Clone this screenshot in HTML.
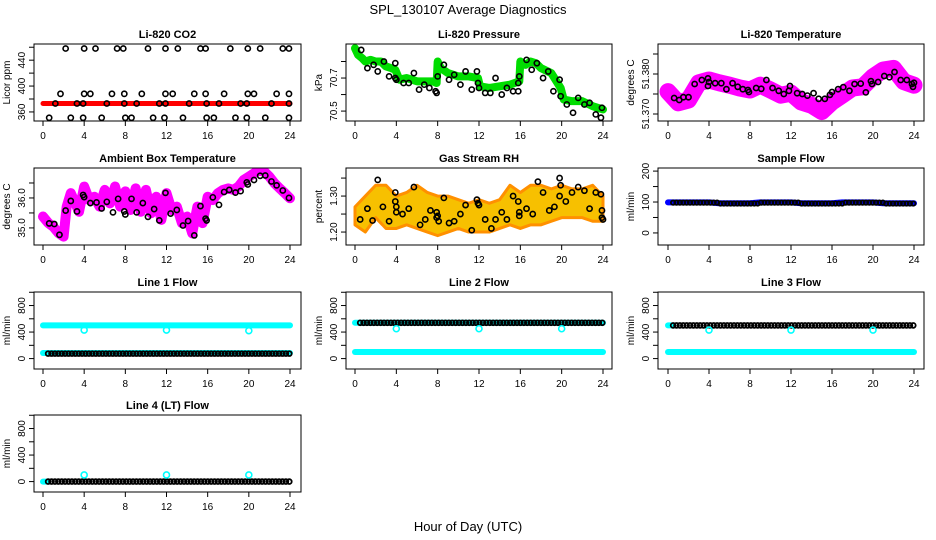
<!DOCTYPE html>
<html><head><meta charset="utf-8"><style>
html,body{margin:0;padding:0;background:#fff;}
svg{display:block;font-family:"Liberation Sans",sans-serif;}
</style></head><body>
<svg id="chart" width="936" height="540" viewBox="0 0 936 540">
<text x="468" y="14" text-anchor="middle" font-size="13">SPL_130107  Average Diagnostics</text>
<text x="468" y="531" text-anchor="middle" font-size="13">Hour of Day (UTC)</text>
</svg>
<script>
// ---- data ----
const hours = [0,1,2,3,4,5,6,7,8,9,10,11,12,13,14,15,16,17,18,19,20,21,22,23,24];
const xTicks = [0,4,8,12,16,20,24];

const co2BandH = [0,24];
const co2BandV = [373,373];
const co2PtsH = [2.2,4.0,5.1,7.2,7.8,10.2,11.9,13.1,15.3,15.8,18.2,19.9,21.1,23.3,23.9,
 1.7,4.0,4.6,6.7,7.9,9.6,11.9,12.6,14.7,15.8,17.6,19.9,20.5,22.7,23.9,
 1.2,3.3,3.9,6.2,7.9,9.1,11.3,11.9,14.2,15.9,17.1,19.2,19.8,22.2,23.9,
 0.6,2.7,3.9,5.7,8.0,8.6,10.7,11.8,13.6,15.9,16.6,18.7,19.8,21.6,23.9];
const co2PtsV = [458,458,458,458,458,458,458,458,458,458,458,458,458,458,458,
 388,388,388,388,388,388,388,388,388,388,388,388,388,388,388,
 373,373,373,373,373,373,373,373,373,373,373,373,373,373,373,
 351,351,351,351,351,351,351,351,351,351,351,351,351,351,351];

const presBandH = [0,0.3,0.7,1,1.5,2,2.5,3,3.5,3.9,4.3,5,6,7,7.5,7.9,8,8.3,9,10,11,11.9,12.1,13,14,15,15.9,16,16.5,17,17.5,18,19,19.9,20.2,21,22,23,24];
const presBandV = [70.88,70.84,70.82,70.80,70.81,70.80,70.80,70.77,70.76,70.75,70.69,70.70,70.68,70.68,70.68,70.67,70.80,70.76,70.73,70.71,70.71,70.70,70.65,70.64,70.65,70.66,70.68,70.80,70.78,70.80,70.79,70.76,70.73,70.64,70.57,70.56,70.56,70.53,70.51];
const presPtsH = [0.6,1.2,1.8,2.2,2.8,3.3,3.9,3.9,4.0,4.7,5.2,5.7,6.2,6.7,7.2,7.8,7.9,8.0,8.6,9.1,9.6,10.2,10.7,11.3,11.8,11.9,12.0,12.6,13.1,13.6,14.2,14.7,15.3,15.8,15.8,15.9,16.6,17.1,17.6,18.2,18.7,19.2,19.8,19.9,20.5,21.1,21.6,22.2,22.7,23.3,23.8,23.9];
const presPtsV = [70.87,70.76,70.78,70.74,70.80,70.71,70.79,70.70,70.69,70.67,70.67,70.73,70.63,70.66,70.64,70.62,70.61,70.71,70.78,70.69,70.72,70.66,70.74,70.63,70.74,70.67,70.64,70.61,70.61,70.70,70.60,70.64,70.62,70.62,70.67,70.71,70.81,70.75,70.79,70.70,70.74,70.62,70.69,70.59,70.54,70.49,70.58,70.54,70.55,70.48,70.46,70.52];

const tempBandV = [51.3756,51.3728,51.3735,51.3778,51.3785,51.3778,51.3772,51.3765,51.3760,51.3772,51.3760,51.3747,51.3752,51.3730,51.3722,51.3706,51.3730,51.3747,51.3765,51.3768,51.3793,51.3810,51.3814,51.3781,51.3772];
const tempPtsH = [0.6,1.1,1.5,2.0,2.6,3.3,3.9,4.0,3.9,4.6,5.2,5.7,6.3,6.8,7.3,7.8,7.9,8.6,9.1,9.6,10.2,10.8,11.3,11.8,11.9,12.6,13.1,13.6,14.2,14.7,15.3,15.8,16.0,16.6,17.1,17.7,18.2,18.8,19.3,19.8,19.9,20.5,21.1,21.6,22.1,22.7,23.3,23.8,23.9,24];
const tempPtsV = [51.3740,51.3735,51.3742,51.3742,51.3775,51.3785,51.3789,51.3780,51.3770,51.3777,51.3777,51.3762,51.3777,51.3768,51.3762,51.3760,51.3755,51.3765,51.3763,51.3785,51.3765,51.3758,51.3750,51.3758,51.3770,51.3752,51.3750,51.3746,51.3752,51.3738,51.3738,51.3748,51.3755,51.3762,51.3767,51.3758,51.3775,51.3776,51.3754,51.3782,51.3775,51.3780,51.3795,51.3792,51.3805,51.3785,51.3785,51.3775,51.3768,51.3778];

const ambBandH = [0,0.5,1,1.5,2,2.3,2.7,3,3.5,4,4.5,5,5.5,6,6.5,7,7.5,8,8.5,9,9.5,10,10.5,11,11.5,12,12.5,13,13.5,14,14.5,15,15.5,16,16.5,17,17.5,18,18.5,19,19.5,20,20.5,21,21.5,22,22.5,23,23.5,24];
const ambBandV = [35.38,35.17,35.04,34.83,34.71,35.71,36.16,35.93,35.54,36.38,35.93,36.04,35.71,36.27,35.82,36.38,35.71,36.22,35.60,36.32,35.54,36.27,35.49,36.04,35.27,36.16,35.60,35.71,35.16,35.38,34.82,35.71,35.16,36.04,35.93,36.16,36.27,36.32,36.27,36.38,36.60,36.71,36.82,36.93,36.88,36.71,36.49,36.32,36.16,35.99];
const ambPtsH = [0.6,1.1,1.6,2.2,2.7,3.3,3.9,4.0,4.6,5.2,5.7,6.2,6.8,7.3,7.9,8.0,8.6,9.1,9.7,10.2,10.8,11.3,11.9,12.4,13.0,13.6,14.1,14.7,15.3,15.8,15.9,16.5,17.1,17.6,18.1,18.7,19.2,19.8,19.9,20.5,21.1,21.6,22.2,22.7,23.3,23.9];
const ambPtsV = [35.15,35.13,34.77,35.58,35.90,35.55,36.10,36.03,35.83,35.85,35.65,35.87,35.52,35.97,35.55,35.45,35.97,35.52,35.83,35.37,35.63,35.25,36.17,35.48,35.60,35.08,35.23,34.75,35.73,35.31,35.25,36.02,35.77,36.20,36.27,36.18,36.23,36.52,36.45,36.60,36.74,36.75,36.55,36.42,36.25,36.00];

const rhUpper = [1.27,1.30,1.33,1.33,1.30,1.31,1.33,1.31,1.30,1.30,1.29,1.28,1.29,1.28,1.29,1.33,1.31,1.33,1.33,1.32,1.33,1.32,1.32,1.33,1.30];
const rhLower = [1.22,1.20,1.24,1.21,1.21,1.22,1.21,1.20,1.19,1.20,1.21,1.20,1.20,1.20,1.21,1.22,1.21,1.22,1.22,1.23,1.24,1.24,1.24,1.23,1.23];
const rhPtsH = [0.5,1.2,1.7,2.2,2.7,3.3,3.9,3.9,4.0,4.0,4.6,5.2,5.7,6.3,6.8,7.3,7.9,8.0,7.9,8.1,8.6,9.1,9.6,10.2,10.7,11.3,11.8,11.9,12.0,12.6,13.2,13.6,14.2,14.7,15.3,15.8,15.9,15.9,16.6,17.2,17.7,18.2,18.8,19.3,19.8,19.9,19.8,20.4,21.0,21.6,22.2,22.7,23.3,23.8,23.9,23.9,24.0];
const rhPtsV = [1.235,1.265,1.232,1.345,1.27,1.23,1.31,1.285,1.27,1.255,1.25,1.265,1.325,1.22,1.235,1.26,1.255,1.245,1.24,1.23,1.295,1.225,1.23,1.25,1.275,1.205,1.29,1.28,1.275,1.235,1.21,1.235,1.255,1.235,1.30,1.285,1.255,1.245,1.265,1.25,1.34,1.31,1.26,1.27,1.35,1.33,1.30,1.285,1.31,1.325,1.315,1.265,1.31,1.305,1.26,1.24,1.235];

const sampleBand = [99,99,99,99,99,96,96,96,96,99,99,99,99,96,96,96,96,99,99,99,99,96,96,96,96];
const sampleBlack = [98,98,98,98,98,95,95,95,95,98,98,98,98,95,95,95,95,98,98,98,98,95,95,95,95];

const l1Cyan = [500,500,500,500,500,500,500,500,500,500,500,500,500,500,500,500,500,500,500,500,500,500,500,500,500];
const l1CyanLow = [85,85,85,85,85,85,85,85,85,85,85,85,85,85,85,85,85,85,85,85,85,85,85,85,85];
const l1Black = [75,75,75,75,75,75,75,75,75,75,75,75,75,75,75,75,75,75,75,75,75,75,75,75,75];
const l1Out = [430,430,420];
const l2Cyan = [540,540,540,540,540,540,540,540,540,540,540,540,540,540,540,540,540,540,540,540,540,540,540,540,540];
const l2CyanLow = [100,100,100,100,100,100,100,100,100,100,100,100,100,100,100,100,100,100,100,100,100,100,100,100,100];
const l2Black = [540,540,540,540,540,540,540,540,540,540,540,540,540,540,540,540,540,540,540,540,540,540,540,540,540];
const l2Out = [450,450,450];
const l3Cyan = [500,500,500,500,500,500,500,500,500,500,500,500,500,500,500,500,500,500,500,500,500,500,500,500,500];
const l3CyanLow = [100,100,100,100,100,100,100,100,100,100,100,100,100,100,100,100,100,100,100,100,100,100,100,100,100];
const l3Black = [500,500,500,500,500,500,500,500,500,500,500,500,500,500,500,500,500,500,500,500,500,500,500,500,500];
const l3Out = [430,430,430];
const l4Cyan = [0,0,0,0,0,0,0,0,0,0,0,0,0,0,0,0,0,0,0,0,0,0,0,0,0];
const l4Black = [0,0,0,0,0,0,0,0,0,0,0,0,0,0,0,0,0,0,0,0,0,0,0,0,0];
const l4Out = [100,100,100];
const outHours = [4,12,20];

// ---- layout ----
const NS = "http://www.w3.org/2000/svg";
const svg = document.getElementById('chart');
const cols = [{l:34,r:301,x0:43,x24:290},{l:346,r:612,x0:355,x24:603},{l:658,r:924,x0:668,x24:914}];
const rowsTop = [44,168,292,415];
const H = 77;

function mk(tag, attrs, parent){
  const e = document.createElementNS(NS, tag);
  for (const k in attrs) e.setAttribute(k, attrs[k]);
  (parent||svg).appendChild(e);
  return e;
}

function panel(row, col, title, ylab, ymin, ymax, ticks, labels, name){
  const c = cols[col], top = rowsTop[row], bot = top + H;
  const g = mk('g', {});
  
  
  const sx = h => c.x0 + (c.x24 - c.x0) * h / 24;
  const sy = v => bot - (v - ymin) / (ymax - ymin) * H;
  const t = mk('text', {x:(c.l+c.r)/2, y:top-6, 'text-anchor':'middle', 'font-size':11, 'font-weight':'bold'}, g);
  t.textContent = title;
  
  
  const yl = mk('text', {x:0, y:0, 'text-anchor':'middle', 'font-size':10, transform:`translate(${c.l-24},${(top+bot)/2}) rotate(-90)`}, g);
  yl.textContent = ylab;
  
  
  const clip = 'clip-' + name;
  const cp = mk('clipPath', {id:clip}, g);
  mk('rect', {x:c.l, y:top, width:c.r-c.l, height:H}, cp);
  const plot = mk('g', {'clip-path':`url(#${clip})`}, g);
  
  
  const box = mk('rect', {x:c.l, y:top, width:c.r-c.l, height:H, fill:'none', stroke:'#000', 'stroke-width':1}, g);
  
  
  const xa = mk('g', {}, g);
  
  
  mk('line', {x1:sx(0), x2:sx(24), y1:bot, y2:bot, stroke:'#000'}, xa);
  xTicks.forEach(h => {
    mk('line', {x1:sx(h), x2:sx(h), y1:bot, y2:bot+5, stroke:'#000'}, xa);
    const tt = mk('text', {x:sx(h), y:bot+18, 'text-anchor':'middle', 'font-size':10}, xa);
    tt.textContent = h;
  });
  const ya = mk('g', {}, g);
  
  
  mk('line', {x1:c.l, x2:c.l, y1:sy(ticks[0]), y2:sy(ticks[ticks.length-1]), stroke:'#000'}, ya);
  ticks.forEach(v => mk('line', {x1:c.l-5, x2:c.l, y1:sy(v), y2:sy(v), stroke:'#000'}, ya));
  labels.forEach(s => {
    const tt = mk('text', {x:0, y:0, 'text-anchor':'middle', 'font-size':10, transform:`translate(${c.l-9},${sy(parseFloat(s))}) rotate(-90)`}, ya);
    tt.textContent = s;
  });
  return {plot, sx, sy};
}

function band(p, hs, vs, color, w, nm){
  const pts = hs.map((h,i) => `${p.sx(h)},${p.sy(vs[i])}`).join(' ');
  const e = mk('polyline', {points:pts, fill:'none', stroke:color, 'stroke-width':w, 'stroke-linejoin':'round', 'stroke-linecap':'round'}, p.plot);
  
  
}
function dots(p, hs, vs, color, r, nm, sw){
  const g = mk('g', {}, p.plot);
  
  
  hs.forEach((h,i) => mk('circle', {cx:p.sx(h), cy:p.sy(vs[i]), r:r, fill:'none', stroke:color, 'stroke-width':sw||1.6}, g));
}
function hourly(p, vals, color, r, nm, start, step){
  const hs = [], vs = [];
  for (let h = start; h <= 24.001; h += step){ hs.push(h); vs.push(vals[Math.min(24, Math.floor(h))]); }
  dots(p, hs, vs, color, r, nm, 1.8);
}

// Row 1
let p = panel(0,0,'Li-820 CO2','Licor ppm',346,465,[360,380,400,420,440,460],['360','400','440'],'co2');
band(p, co2BandH, co2BandV, '#ff0000', 5, 'co2-red-band');
dots(p, co2PtsH, co2PtsV, '#000', 2.6, 'co2-black-points');

p = panel(0,1,'Li-820 Pressure','kPa',70.44,70.906,[70.5,70.6,70.7,70.8],['70.5','70.7'],'pressure');
band(p, presBandH, presBandV, '#00dd00', 8, 'pressure-green-band');
dots(p, presPtsH, presPtsV, '#000', 2.6, 'pressure-black-points');

p = panel(0,2,'Li-820 Temperature','degrees C',51.36825,51.3875,[51.370,51.375,51.380,51.385],['51.370','51.380'],'temperature');
band(p, hours, tempBandV, '#ff00ff', 17, 'temperature-magenta-band');
dots(p, tempPtsH, tempPtsV, '#000', 2.6, 'temperature-black-points');

// Row 2
p = panel(1,0,'Ambient Box Temperature','degrees C',34.43,37.0,[35.0,35.5,36.0,36.5],['35.0','36.0'],'ambient');
band(p, ambBandH, ambBandV, '#ff00ff', 10, 'ambient-magenta-band');
dots(p, ambPtsH, ambPtsV, '#000', 2.6, 'ambient-black-points');

p = panel(1,1,'Gas Stream RH','percent',1.164,1.378,[1.20,1.25,1.30,1.35],['1.20','1.30'],'rh');
{
  const up = hours.map((h,i)=>`${p.sx(h)},${p.sy(rhUpper[i])}`);
  const lo = hours.map((h,i)=>`${p.sx(h)},${p.sy(rhLower[i])}`).reverse();
  const e = mk('polygon', {points:up.concat(lo).join(' '), fill:'#f7c000', stroke:'#ff9000', 'stroke-width':3, 'stroke-linejoin':'round'}, p.plot);
  
  
}
dots(p, rhPtsH, rhPtsV, '#000', 2.6, 'rh-black-points');

p = panel(1,2,'Sample Flow','ml/min',-39,210,[0,50,100,150,200],['0','100','200'],'sample-flow');
band(p, hours, sampleBand, '#0000ff', 6, 'sample-flow-blue-band');
hourly(p, sampleBlack, '#000', 2.2, 'sample-flow-black-points', 0.5, 0.33);

// Row 3/4 flows
const fT = [0,200,400,600,800,1000], fL = ['0','400','800'];
p = panel(2,0,'Line 1 Flow','ml/min',-157,1004,fT,fL,'line1-flow');
band(p, hours, l1Cyan, '#00ffff', 6, 'line1-cyan-high-band');
band(p, hours, l1CyanLow, '#00ffff', 6, 'line1-cyan-low-band');
hourly(p, l1Black, '#000', 2.4, 'line1-black-points', 0.5, 0.33);
dots(p, outHours, l1Out, '#00ffff', 3, 'line1-cyan-outliers');

p = panel(2,1,'Line 2 Flow','ml/min',-157,1004,fT,fL,'line2-flow');
band(p, hours, l2Cyan, '#00ffff', 6, 'line2-cyan-high-band');
band(p, hours, l2CyanLow, '#00ffff', 6, 'line2-cyan-low-band');
hourly(p, l2Black, '#000', 2.4, 'line2-black-points', 0.5, 0.33);
dots(p, outHours, l2Out, '#00ffff', 3, 'line2-cyan-outliers');

p = panel(2,2,'Line 3 Flow','ml/min',-157,1004,fT,fL,'line3-flow');
band(p, [0,0.4], [l3Cyan[0],l3Cyan[0]], '#00ffff', 6, 'line3-cyan-high-band');
band(p, hours, l3CyanLow, '#00ffff', 6, 'line3-cyan-low-band');
hourly(p, l3Black, '#000', 2.4, 'line3-black-points', 0.5, 0.33);
dots(p, outHours, l3Out, '#00ffff', 3, 'line3-cyan-outliers');

p = panel(3,0,'Line 4 (LT) Flow','ml/min',-157,1004,fT,fL,'line4-flow');
band(p, [0,0.4], [l4Cyan[0],l4Cyan[0]], '#00ffff', 6, 'line4-cyan-band');
hourly(p, l4Black, '#000', 2.4, 'line4-black-points', 0.5, 0.33);
dots(p, outHours, l4Out, '#00ffff', 3, 'line4-cyan-outliers');
</script>
</body></html>
